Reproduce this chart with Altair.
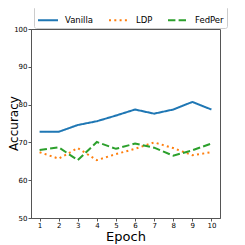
import altair as alt
import pandas as pd

epochs = [1, 2, 3, 4, 5, 6, 7, 8, 9, 10]
vanilla = [72.8, 72.8, 74.6, 75.6, 77.1, 78.7, 77.6, 78.7, 80.7, 78.7]
ldp = [67.4, 65.7, 68.5, 65.3, 66.9, 68.3, 70.0, 68.5, 66.6, 67.4]
fedper = [68.0, 68.7, 65.3, 70.1, 68.3, 69.7, 68.6, 66.5, 67.9, 69.7]
series = ["Vanilla", "LDP", "FedPer"]
colors = ["#1f77b4", "#ff7f0e", "#2ca02c"]
dashes = [[1, 0], [2, 3.3], [7.4, 3.2]]

rows = []
for name, vals in zip(series, [vanilla, ldp, fedper]):
    for e, v in zip(epochs, vals):
        rows.append({"Epoch": e, "Accuracy": v, "Method": name})
df = pd.DataFrame(rows)

legend = alt.Legend(
    title=None, orient="none", legendX=3, legendY=-23, direction="horizontal",
    columns=3, symbolType="stroke", symbolSize=400, symbolStrokeWidth=2,
    labelFontSize=8.5, labelFont="DejaVu Sans", labelColor="#000",
    strokeColor="#ccc", padding=3, cornerRadius=2, columnPadding=11,
    labelOffset=6, fillColor="white",
)

chart = alt.Chart(df).mark_line(strokeWidth=2).encode(
    x=alt.X("Epoch:Q", scale=alt.Scale(domain=[0.55, 10.45], nice=False, zero=False),
            axis=alt.Axis(values=epochs, title="Epoch", grid=False, format="d",
                          titleY=12, titleBaseline="top", labelPadding=0)),
    y=alt.Y("Accuracy:Q", scale=alt.Scale(domain=[50, 100], nice=False),
            axis=alt.Axis(values=[50, 60, 70, 80, 90, 100], title="Accuracy", grid=False,
                          titleX=-23, titleY=94, titleBaseline="top", titleAlign="center",
                          titleAngle=270, titleFontSize=12)),
    color=alt.Color("Method:N", scale=alt.Scale(domain=series, range=colors), legend=legend),
    strokeDash=alt.StrokeDash("Method:N", scale=alt.Scale(domain=series, range=dashes), legend=legend),
).properties(
    width=189, height=189,
    autosize=alt.AutoSizeParams(type="none"),
    padding={"left": 23, "top": 21, "right": 10, "bottom": 28},
).configure_view(
    stroke="#555", strokeWidth=1
).configure_axis(
    domainColor="#555", tickColor="#555", tickSize=3,
    labelFont="DejaVu Sans", labelFontSize=7, labelColor="#000",
    titleFont="DejaVu Sans", titleFontSize=13, titleFontWeight="normal", titleColor="#000",
    labelPadding=1,
)

chart.save("out.html", embed_options={"renderer": "svg", "actions": False})
